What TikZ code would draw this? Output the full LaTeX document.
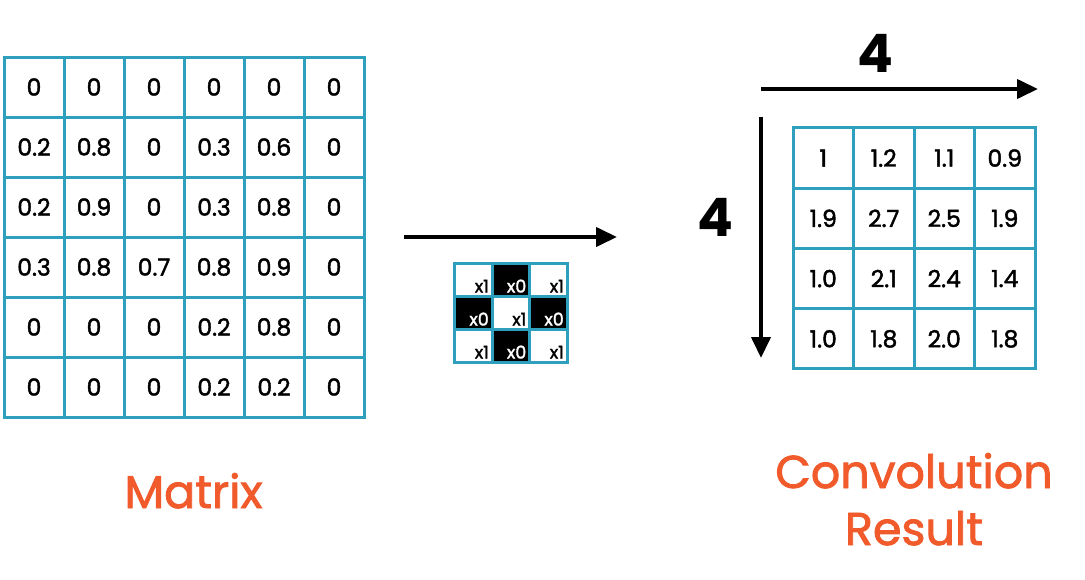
\documentclass[tikz,border=0pt]{standalone}
\usepackage{fontspec}
\setmainfont{Poppins}
\newfontfamily\medfont{Poppins}[FakeBold=1.8]
\usetikzlibrary{arrows.meta}
\definecolor{gridteal}{HTML}{2EA0BE}
\definecolor{titleorange}{HTML}{F15A2B}
\begin{document}
\begin{tikzpicture}[x=1pt,y=-1pt,
  mcell/.style={draw=gridteal,line width=3pt,minimum width=60pt,minimum height=60pt,inner sep=0pt,font=\medfont\fontsize{23.5}{23.5}\selectfont},
  rcell/.style={draw=gridteal,line width=3pt,minimum width=60.5pt,minimum height=60.25pt,inner sep=0pt,font=\medfont\fontsize{23.5}{23.5}\selectfont},
  kcell/.style={draw=gridteal,line width=3pt,minimum width=37.5pt,minimum height=33pt,inner sep=0pt},
  ktext/.style={inner sep=0pt,anchor=base east,font=\medfont\fontsize{17.5}{17.5}\selectfont},
  bigarrow/.style={line width=4pt,-{Triangle[length=21pt,width=19pt]}},
  dimlabel/.style={font=\fontsize{53}{53}\selectfont\bfseries,inner sep=0pt},
  title/.style={font=\medfont\fontsize{46}{46}\selectfont,text=titleorange,inner sep=0pt,anchor=base}]
\useasboundingbox (0,0) rectangle (1085,579);
\fill[white] (0,0) rectangle (1085,579);
% input matrix
\foreach \row [count=\j from 0] in {{0,0,0,0,0,0},{0.2,0.8,0,0.3,0.6,0},{0.2,0.9,0,0.3,0.8,0},{0.3,0.8,0.7,0.8,0.9,0},{0,0,0,0.2,0.8,0},{0,0,0,0.2,0.2,0}}{
  \foreach \v [count=\i from 0] in \row {
    \node[mcell] (m-\j-\i) at ({34+60*\i},{87+60*\j}) {\v};
  }
}
% result matrix
\foreach \row [count=\j from 0] in {{1,1.2,1.1,0.9},{1.9,2.7,2.5,1.9},{1.0,2.1,2.4,1.4},{1.0,1.8,2.0,1.8}}{
  \foreach \v [count=\i from 0] in \row {
    \node[rcell] (r-\j-\i) at ({823.25+60.5*\i},{158.1+60.25*\j}) {\v};
  }
}
% kernel
\foreach \j in {0,1,2}{
  \foreach \i in {0,1,2}{
    \pgfmathtruncatemacro{\odd}{mod(\i+\j,2)}
    \ifnum\odd=1
      \node[kcell,fill=black] (k-\j-\i) at ({473.25+37.5*\i},{279.5+33*\j}) {};
      \node[ktext,text=white] (kt-\j-\i) at ([xshift=-4.5pt,yshift=5pt]k-\j-\i.south east) {x0};
    \else
      \node[kcell,fill=white] (k-\j-\i) at ({473.25+37.5*\i},{279.5+33*\j}) {};
      \node[ktext,text=black] (kt-\j-\i) at ([xshift=-4.5pt,yshift=5pt]k-\j-\i.south east) {x1};
    \fi
  }
}
% arrows
\coordinate (mid-a) at (404,237);
\coordinate (mid-b) at (617,237);
\draw[bigarrow] (mid-a) -- (mid-b);
\coordinate (top-a) at (761,89);
\coordinate (top-b) at (1038,89);
\draw[bigarrow] (top-a) -- (top-b);
\coordinate (side-a) at (761,117);
\coordinate (side-b) at (761,358);
\draw[bigarrow] (side-a) -- (side-b);
\node[dimlabel] (dimtop) at (875,53) {4};
\node[dimlabel] (dimside) at (715,217) {4};
% titles
\node[title] (t-matrix) at (193.5,508) {Matrix};
\node[title] (t-conv) at (914,488) {Convolution};
\node[title] (t-res) at (914,545) {Result};
\end{tikzpicture}
\end{document}
